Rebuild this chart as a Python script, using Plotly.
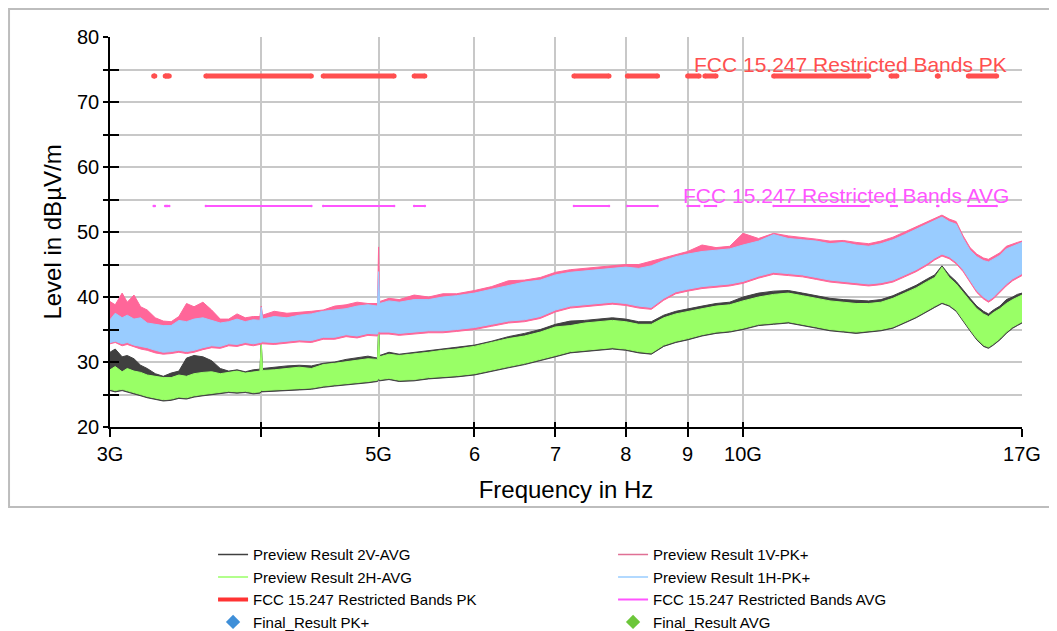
import plotly.graph_objects as go

# frequency grid (GHz) at which the trace envelopes were read
freq_ghz = [3.0, 3.03, 3.07, 3.1, 3.14, 3.18, 3.22, 3.27, 3.32, 3.37,
            3.42, 3.47, 3.52, 3.58, 3.64, 3.7, 3.76, 3.82, 3.88, 3.94,
            3.99, 4.0, 4.01, 4.1, 4.2, 4.3, 4.4, 4.5, 4.6, 4.7,
            4.8, 4.9, 4.99, 5.0, 5.01, 5.1, 5.2, 5.35, 5.5, 5.65,
            5.8, 6.0, 6.2, 6.4, 6.6, 6.8, 7.0, 7.2, 7.4, 7.6,
            7.8, 8.0, 8.2, 8.4, 8.6, 8.8, 9.0, 9.25, 9.5, 9.75,
            10.0, 10.3, 10.6, 10.9, 11.2, 11.5, 11.8, 12.1, 12.4, 12.7,
            13.0, 13.3, 13.6, 13.9, 14.2, 14.4, 14.6, 14.8, 15.0, 15.2,
            15.4, 15.6, 15.8, 15.95, 16.1, 16.3, 16.5, 16.7, 16.85, 17.0]

# Preview Result 1H-PK+ (light blue) upper / lower envelope, dBuV/m
pk_1h_hi = [36.5, 37.5, 36.8, 37.2, 36.6, 36.8, 36.0, 35.8, 35.6, 35.6,
            36.4, 36.2, 36.6, 36.8, 36.4, 36.0, 36.2, 36.6, 36.2, 36.5,
            36.4, 38.4, 36.6, 37.0, 36.8, 37.2, 37.4, 37.8, 38.0, 38.2,
            38.6, 38.8, 38.6, 43.9, 39.0, 39.4, 39.2, 39.6, 39.6, 40.0,
            40.2, 40.6, 41.2, 41.8, 42.3, 42.6, 43.4, 43.8, 44.0, 44.2,
            44.4, 44.6, 44.4, 44.8, 45.6, 46.2, 46.6, 47.0, 47.2, 47.4,
            48.0, 48.6, 49.6, 49.0, 48.8, 48.6, 48.2, 48.4, 48.0, 47.8,
            48.2, 48.8, 49.6, 50.4, 51.2, 51.8, 52.3, 51.6, 51.2, 49.0,
            47.2, 46.2, 45.6, 45.4, 45.8, 46.4, 47.4, 47.8, 48.0, 48.4]
pk_1h_lo = [33.0, 33.2, 32.8, 33.0, 32.6, 32.4, 32.2, 31.8, 31.5, 31.6,
            31.8, 31.6, 31.8, 32.2, 32.5, 32.4, 32.8, 32.7, 33.0, 32.8,
            33.0, 33.0, 33.1, 33.0, 33.2, 33.4, 33.3, 33.8, 33.8, 34.2,
            34.0, 34.4, 34.3, 34.8, 34.6, 34.6, 34.4, 34.6, 34.8, 34.8,
            35.0, 35.3, 35.8, 36.3, 36.5, 37.0, 38.0, 38.6, 38.8, 39.0,
            39.2, 39.0, 38.6, 38.4, 39.8, 40.8, 41.2, 41.6, 41.8, 42.0,
            42.4, 43.2, 43.8, 43.6, 43.4, 43.0, 42.6, 42.4, 42.2, 42.0,
            42.2, 42.6, 43.4, 44.2, 45.2, 46.0, 46.6, 46.2, 45.4, 44.2,
            42.6, 41.0, 40.0, 39.5, 40.0, 41.0, 42.0, 42.8, 43.2, 43.6]

# Preview Result 1V-PK+ (pink)
pk_1v_hi = [39.3, 38.8, 40.6, 39.2, 40.3, 38.5, 38.0, 36.8, 36.3, 36.2,
            37.0, 39.0, 38.5, 39.2, 38.0, 36.6, 36.6, 37.4, 36.8, 37.0,
            37.0, 38.6, 37.2, 37.8, 37.5, 37.6, 37.8, 38.0, 38.6, 38.8,
            39.2, 39.0, 39.0, 47.7, 39.3, 39.8, 39.6, 40.3, 40.0, 40.5,
            40.5, 41.0, 41.6, 42.5, 42.6, 43.0, 43.8, 44.2, 44.4, 44.6,
            44.8, 45.0, 45.0, 45.5, 46.0, 46.5, 47.0, 48.0, 47.6, 47.8,
            49.8, 49.0, 49.8, 49.4, 49.2, 48.9, 48.6, 48.7, 48.4, 48.2,
            48.6, 49.2, 50.0, 50.8, 51.6, 52.2, 52.6, 52.0, 51.6, 49.4,
            47.6, 46.6, 46.0, 45.8, 46.2, 46.8, 47.8, 48.2, 48.4, 48.6]
pk_1v_lo = [32.8, 33.0, 32.5, 32.7, 32.3, 32.0, 31.8, 31.4, 31.2, 31.3,
            31.5, 31.3, 31.5, 31.9, 32.2, 32.1, 32.5, 32.4, 32.7, 32.5,
            32.7, 32.7, 32.8, 32.7, 32.9, 33.1, 33.0, 33.5, 33.5, 33.9,
            33.7, 34.1, 34.0, 34.5, 34.3, 34.3, 34.1, 34.3, 34.5, 34.5,
            34.7, 35.0, 35.5, 36.0, 36.2, 36.7, 37.7, 38.3, 38.5, 38.7,
            38.9, 38.7, 38.3, 38.1, 39.5, 40.5, 40.9, 41.3, 41.5, 41.7,
            42.1, 42.9, 43.5, 43.3, 43.1, 42.7, 42.3, 42.1, 41.9, 41.7,
            41.9, 42.3, 43.1, 43.9, 44.9, 45.7, 46.3, 45.9, 45.1, 43.9,
            42.3, 40.7, 39.7, 39.2, 39.7, 40.7, 41.7, 42.5, 42.9, 43.3]

# Preview Result 2H-AVG (green)
avg_2h_hi = [28.8, 29.3, 28.5, 29.0, 28.6, 28.4, 28.0, 27.8, 27.6, 27.6,
             28.0, 27.8, 28.2, 28.4, 28.5, 28.2, 28.4, 28.6, 28.3, 28.5,
             28.6, 32.8, 28.7, 28.8, 29.0, 29.2, 29.0, 29.6, 29.8, 30.0,
             30.3, 30.5, 30.4, 34.7, 30.8, 31.2, 31.0, 31.2, 31.5, 31.8,
             32.0, 32.4, 33.0, 33.6, 34.0, 34.6, 35.4, 35.6, 36.0, 36.2,
             36.4, 36.2, 35.8, 35.8, 36.8, 37.4, 37.8, 38.2, 38.6, 38.8,
             39.4, 40.0, 40.4, 40.6, 40.2, 39.8, 39.4, 39.2, 39.0, 39.0,
             39.2, 39.8, 40.6, 41.4, 42.4, 43.0, 44.6, 43.0, 42.0, 40.6,
             39.4, 38.2, 37.4, 37.0, 37.6, 38.2, 39.0, 39.6, 40.0, 40.3]
avg_2h_lo = [25.8, 25.6, 25.8, 25.5, 25.3, 25.0, 24.7, 24.4, 24.2, 24.3,
             24.6, 24.5, 24.8, 25.0, 25.1, 25.3, 25.5, 25.4, 25.5, 25.3,
             25.4, 25.6, 25.5, 25.6, 25.8, 25.9, 26.0, 26.3, 26.5, 26.7,
             26.8, 27.0, 27.2, 27.5, 27.3, 27.5, 27.2, 27.3, 27.6, 27.8,
             27.9, 28.2, 28.8, 29.3, 29.8, 30.4, 31.0, 31.6, 31.8, 32.0,
             32.2, 32.0, 31.6, 31.4, 32.6, 33.2, 33.6, 34.2, 34.6, 34.8,
             35.2, 35.8, 36.0, 36.2, 35.8, 35.4, 35.0, 34.8, 34.6, 34.8,
             35.0, 35.4, 36.2, 37.0, 38.0, 38.6, 39.2, 38.8, 38.0, 36.4,
             35.0, 33.6, 32.6, 32.3, 32.8, 33.6, 34.6, 35.4, 35.8, 36.2]

# Preview Result 2V-AVG (dark grey)
avg_2v_hi = [31.5, 32.0, 30.8, 31.0, 30.5, 29.5, 29.0, 28.2, 27.8, 28.3,
             28.6, 30.6, 31.0, 30.8, 30.2, 29.0, 28.6, 28.8, 28.5, 28.8,
             28.9, 33.0, 29.0, 29.2, 29.4, 29.5, 29.4, 29.8, 30.0, 30.4,
             30.6, 30.9, 30.6, 35.2, 31.0, 31.5, 31.2, 31.5, 31.7, 32.0,
             32.3, 32.6, 33.2, 33.9, 34.4, 35.0, 35.8, 36.3, 36.4, 36.6,
             36.8, 36.6, 36.2, 36.2, 37.2, 37.8, 38.2, 38.6, 39.0, 39.2,
             40.0, 40.6, 40.9, 41.0, 40.6, 40.2, 39.8, 39.6, 39.5, 39.4,
             39.6, 40.2, 41.0, 41.8, 42.8, 43.4, 44.8, 43.4, 42.4, 41.0,
             39.8, 38.6, 37.8, 37.4, 38.0, 38.6, 39.6, 40.0, 40.4, 40.6]
avg_2v_lo = [25.6, 25.4, 25.6, 25.3, 25.1, 24.8, 24.5, 24.2, 24.0, 24.1,
             24.4, 24.3, 24.6, 24.8, 24.9, 25.1, 25.3, 25.2, 25.3, 25.1,
             25.2, 25.4, 25.3, 25.4, 25.6, 25.7, 25.8, 26.1, 26.3, 26.5,
             26.6, 26.8, 27.0, 27.3, 27.1, 27.3, 27.0, 27.1, 27.4, 27.6,
             27.7, 28.0, 28.6, 29.1, 29.6, 30.2, 30.8, 31.4, 31.6, 31.8,
             32.0, 31.8, 31.4, 31.2, 32.4, 33.0, 33.4, 34.0, 34.4, 34.6,
             35.0, 35.6, 35.8, 36.0, 35.6, 35.2, 34.8, 34.6, 34.4, 34.6,
             34.8, 35.2, 36.0, 36.8, 37.8, 38.4, 39.0, 38.6, 37.8, 36.2,
             34.8, 33.4, 32.4, 32.1, 32.6, 33.4, 34.4, 35.2, 35.6, 36.0]

# FCC 15.205 restricted bands inside 3-17 GHz
band_start_ghz = [3.26, 3.332, 3.3458, 3.6, 4.5, 5.35, 7.25, 8.025, 9.0, 9.3,
                  10.6, 13.25, 14.47, 15.35]
band_stop_ghz = [3.267, 3.339, 3.358, 4.4, 5.15, 5.46, 7.75, 8.5, 9.2, 9.5,
                 12.7, 13.4, 14.5, 16.2]
limit_pk = 74
limit_avg = 54

x_tickvals = [3, 4, 5, 6, 7, 8, 9, 10, 17]
x_ticktext = ["3G", "", "5G", "6", "7", "8", "9", "10G", "17G"]
y_tickvals = [20, 25, 30, 35, 40, 45, 50, 55, 60, 65, 70, 75, 80]
y_ticktext = ["20", "", "30", "", "40", "", "50", "", "60", "", "70", "", "80"]

FONT = "Arial, 'Liberation Sans', sans-serif"


def band_xy(level):
    xs, ys = [], []
    for s, e in zip(band_start_ghz, band_stop_ghz):
        xs += [s, e, None]
        ys += [level, level, None]
    return xs, ys


def envelope(name, hi, lo, color):
    return go.Scatter(
        x=freq_ghz + freq_ghz[::-1], y=hi + lo[::-1],
        mode="lines", fill="toself", fillcolor=color,
        line={"color": color, "width": 1},
        name=name, showlegend=False, hoverinfo="skip",
    )


fig = go.Figure()

# noise bands: grey under green, pink under blue
fig.add_trace(envelope("Preview Result 2V-AVG", avg_2v_hi, avg_2v_lo, "#404040"))
fig.add_trace(envelope("Preview Result 2H-AVG", avg_2h_hi, avg_2h_lo, "#99FF66"))
fig.add_trace(envelope("Preview Result 1V-PK+", pk_1v_hi, pk_1v_lo, "#FF6699"))
fig.add_trace(envelope("Preview Result 1H-PK+", pk_1h_hi, pk_1h_lo, "#99CCFF"))

pk_x, pk_y = band_xy(limit_pk)
avg_x, avg_y = band_xy(limit_avg)
fig.add_trace(go.Scatter(
    x=pk_x, y=pk_y, mode="lines+markers", showlegend=False,
    line={"color": "#FF4F4F", "width": 5},
    marker={"color": "#FF4F4F", "size": 5}, hoverinfo="skip",
))
fig.add_trace(go.Scatter(
    x=avg_x, y=avg_y, mode="lines+markers", showlegend=False,
    line={"color": "#FF55FF", "width": 2},
    marker={"color": "#FF55FF", "size": 2.5}, hoverinfo="skip",
))

# legend entries (two columns, row-wise order)
legend_items = [
    ("Preview Result 2V-AVG", "line", "#404040", 1.5),
    ("Preview Result 1V-PK+", "line", "#E07095", 1.5),
    ("Preview Result 2H-AVG", "line", "#99FF66", 1.5),
    ("Preview Result 1H-PK+", "line", "#99CCFF", 1.5),
    ("FCC 15.247 Restricted Bands PK", "line", "#FF3333", 4),
    ("FCC 15.247 Restricted Bands AVG", "line", "#FF55FF", 2),
    ("Final_Result PK+", "diamond", "#3F8FD8", 0),
    ("Final_Result AVG", "diamond", "#6CC63A", 0),
]
for name, kind, color, w in legend_items:
    if kind == "line":
        fig.add_trace(go.Scatter(x=[None], y=[None], mode="lines", name=name,
                                 line={"color": color, "width": w}))
    else:
        fig.add_trace(go.Scatter(x=[None], y=[None], mode="markers", name=name,
                                 marker={"symbol": "diamond", "color": color, "size": 11}))

# invisible trace to anchor the overlay axes (inside tick halves)
fig.add_trace(go.Scatter(x=[3], y=[20], xaxis="x2", yaxis="y2", mode="markers",
                         marker={"opacity": 0}, showlegend=False, hoverinfo="skip"))

fig.add_annotation(text="FCC 15.247 Restricted Bands PK", x=0.986, xref="paper",
                   y=75.7, yref="y", xanchor="right", yanchor="middle", showarrow=False,
                   font={"family": FONT, "size": 21, "color": "#FF4F4F"})
fig.add_annotation(text="FCC 15.247 Restricted Bands AVG", x=0.988, xref="paper",
                   y=55.6, yref="y", xanchor="right", yanchor="middle", showarrow=False,
                   font={"family": FONT, "size": 21, "color": "#FF55FF"})

# outer frame (left/top edges kept just inside the canvas)
fig.add_shape(type="rect", xref="paper", yref="paper",
              x0=-0.1107, x1=1.045, y0=-0.2051, y1=1.0718,
              line={"color": "#BDBDBD", "width": 2})

axis_common = {"type": "log", "range": [0.47712, 1.23045]}
fig.update_layout(
    # page body adds an 8px offset, so the canvas is 8px smaller each way
    width=1049, height=623,
    margin={"l": 102, "r": 35, "t": 29, "b": 204, "autoexpand": False},
    paper_bgcolor="white", plot_bgcolor="white",
    font={"family": FONT, "size": 20, "color": "black"},
    xaxis={**axis_common,
           "tickvals": x_tickvals, "ticktext": x_ticktext,
           "ticks": "outside", "ticklen": 8, "tickwidth": 1.5, "tickcolor": "black",
           "showline": True, "linecolor": "black", "linewidth": 1.5,
           "showgrid": True, "gridcolor": "#C8C8C8", "gridwidth": 2,
           "zeroline": False, "automargin": False,
           "title": {"text": "Frequency in Hz", "standoff": 17}},
    yaxis={"range": [20, 80], "tickvals": y_tickvals, "ticktext": y_ticktext,
           "ticks": "outside", "ticklen": 5, "tickwidth": 1.5, "tickcolor": "black",
           "showline": True, "linecolor": "black", "linewidth": 1.5,
           "showgrid": True, "gridcolor": "#C8C8C8", "gridwidth": 2,
           "zeroline": False, "automargin": False,
           "title": {"text": "Level in dBµV/m", "standoff": 9}},
    xaxis2={**axis_common, "overlaying": "x", "anchor": "y", "side": "bottom",
            "tickvals": x_tickvals, "ticks": "inside", "ticklen": 5, "tickwidth": 1.5,
            "tickcolor": "black", "showticklabels": False, "showgrid": False,
            "zeroline": False},
    yaxis2={"range": [20, 80], "overlaying": "y", "anchor": "x", "side": "left",
            "tickvals": y_tickvals, "ticks": "inside", "ticklen": 9, "tickwidth": 1.5,
            "tickcolor": "black", "showticklabels": False, "showgrid": False,
            "zeroline": False},
    legend={"orientation": "h", "x": 0.113, "xanchor": "left",
            "y": -0.285, "yanchor": "top",
            "entrywidth": 355, "entrywidthmode": "pixels",
            "font": {"family": FONT, "size": 15, "color": "black"},
            "bgcolor": "rgba(0,0,0,0)"},
    showlegend=True,
)

fig.write_html("out.html")
